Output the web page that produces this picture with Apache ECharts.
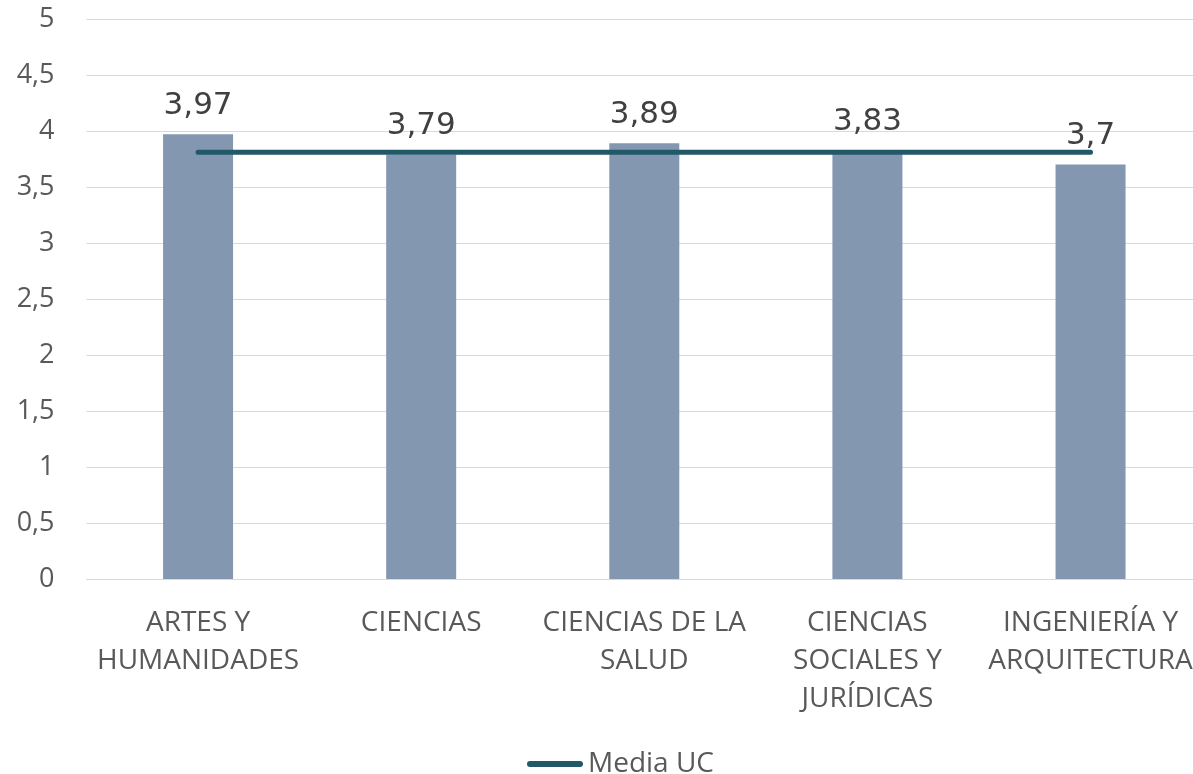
<!DOCTYPE html>
<html>
<head>
<meta charset="utf-8">
<script src="https://cdn.jsdelivr.net/npm/echarts@6/dist/echarts.min.js"></script>
<style>
  html, body { margin: 0; padding: 0; background: #fff; overflow: hidden; }
  #chart { width: 1205px; height: 774px; }
</style>
</head>
<body>
<div id="chart"></div>
<script>
const categories = [
  'ARTES Y\nHUMANIDADES',
  'CIENCIAS',
  'CIENCIAS DE LA\nSALUD',
  'CIENCIAS\nSOCIALES Y\nJURÍDICAS',
  'INGENIERÍA Y\nARQUITECTURA',
];
const areaValues = [3.97, 3.79, 3.89, 3.83, 3.7];
const mediaUC = [3.81, 3.81, 3.81, 3.81, 3.81];

const comma = (v) => String(v).replace('.', ',');

// the plot runs a little past the right edge of the window, like the original
const chart = echarts.init(document.getElementById('chart'));

const option = {
  backgroundColor: '#fff',
  animation: false,
  grid: {
    left: 86.5,
    top: 19,
    width: 1115.6,
    height: 560,
  },
  legend: {
    top: 745,
    left: 522,
    itemWidth: 56,
    itemHeight: 6,
    itemGap: 5,
    data: [
      {
        name: 'Media UC',
        icon: 'path://M3,0 L53,0 A3,3 0 0 1 53,6 L3,6 A3,3 0 0 1 3,0 Z',
      },
    ],
    textStyle: {
      fontFamily: 'Open Sans',
      fontSize: 28,
      color: '#595959',
    },
  },
  xAxis: {
    type: 'category',
    data: categories,
    axisTick: { show: false },
    axisLine: { lineStyle: { color: '#d9d9d9', width: 1 } },
    axisLabel: {
      interval: 0,
      margin: 25,
      fontFamily: 'Open Sans',
      fontSize: 28,
      lineHeight: 38,
      color: '#595959',
    },
  },
  yAxis: {
    type: 'value',
    min: 0,
    max: 5,
    interval: 0.5,
    axisLine: { show: false },
    axisTick: { show: false },
    splitLine: { lineStyle: { color: '#d9d9d9', width: 1 } },
    axisLabel: {
      margin: 32,
      fontFamily: 'Open Sans',
      fontSize: 27,
      color: '#595959',
      formatter: comma,
    },
  },
  series: [
    {
      type: 'bar',
      name: 'Áreas',
      data: areaValues,
      barWidth: 70,
      itemStyle: { color: '#8497b0' },
      label: {
        show: true,
        position: 'top',
        distance: 13,
        fontFamily: 'DejaVu Sans',
        fontSize: 31,
        color: '#404040',
        formatter: (p) => comma(p.value),
      },
      z: 2,
    },
    {
      type: 'line',
      name: 'Media UC',
      data: mediaUC,
      symbol: 'none',
      color: '#215968',
      lineStyle: { color: '#215968', width: 5, cap: 'round' },
      z: 3,
    },
  ],
};

chart.setOption(option);
</script>
</body>
</html>
